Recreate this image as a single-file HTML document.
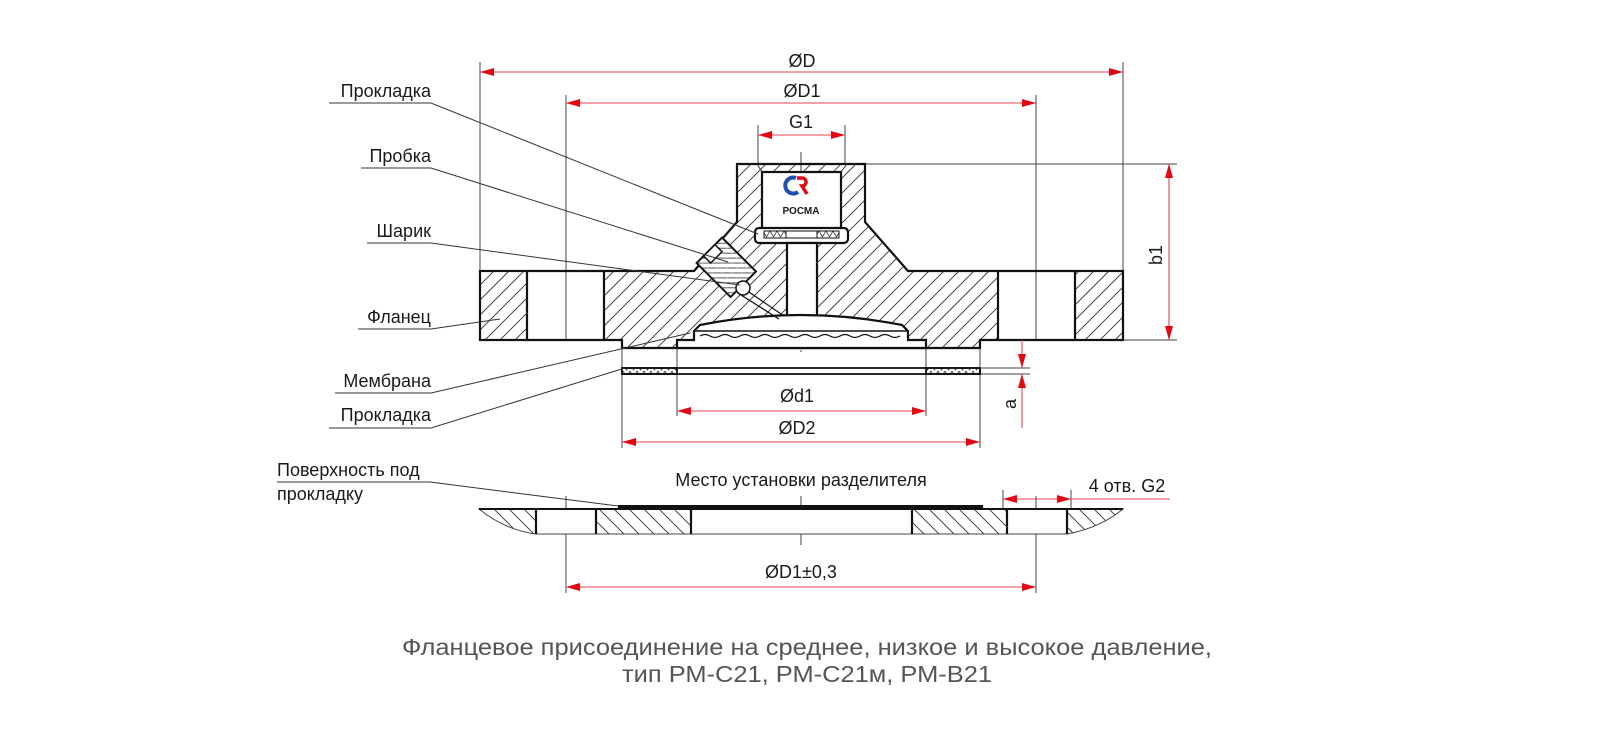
<!DOCTYPE html>
<html><head><meta charset="utf-8"><style>
html,body{margin:0;padding:0;background:#fff;}
svg{display:block;}
text{font-family:"Liberation Sans",sans-serif;fill:#1a1a1a;}
</style></head><body>
<svg width="1599" height="742" viewBox="0 0 1599 742" xmlns="http://www.w3.org/2000/svg">
<defs>
<pattern id="h1" patternUnits="userSpaceOnUse" width="15" height="15"><path d="M-2,17 L17,-2 M-2,2 L2,-2 M13,17 L17,13" stroke="#333" stroke-width="0.9"/></pattern>
<pattern id="h2" patternUnits="userSpaceOnUse" width="15" height="15"><path d="M-2,-2 L17,17 M13,-2 L17,2 M-2,13 L2,17" stroke="#333" stroke-width="0.9"/></pattern>
<pattern id="h3" patternUnits="userSpaceOnUse" width="7" height="7"><path d="M0,7 L7,0" stroke="#333" stroke-width="0.8"/></pattern>
<pattern id="xx" patternUnits="userSpaceOnUse" width="7" height="7"><path d="M0,0 L3.5,6 L7,0" stroke="#333" stroke-width="0.8" fill="none"/></pattern>
<marker id="ar" markerWidth="14" markerHeight="8" refX="14" refY="4" orient="auto-start-reverse" markerUnits="userSpaceOnUse"><path d="M0,0 L14,4 L0,8 Z" fill="#e30613"/></marker>
</defs>

<g stroke="#444" stroke-width="1" fill="none">
<path d="M480,62V271 M1123,62V271 M566,95V340 M1036,95V340 M758,125V164 M845,125V164"/>
<path d="M865,164H1177 M1123,340H1177 M980,368H1030 M980,374H1030"/>
<path d="M677,348V416 M926,348V416 M622,374V448 M980,374V448"/>
<path d="M566,496V593 M1036,496V593 M1003,490V520 M1071,490V520"/>
</g>
<g stroke="#444" stroke-width="1" fill="none" stroke-dasharray="22,4,3,4">
<path d="M801,152V352 M801,496V545"/>
</g>

<path d="M604,271 L694,271 L737,222 L737,164 L865,164 L865,222 L908,271 L998,271 L998,340 L980,340 L980,348 L622,348 L622,340 L604,340 Z" fill="url(#h1)" stroke="#111" stroke-width="2.2"/>
<rect x="480" y="271" width="47" height="69" fill="url(#h1)" stroke="#111" stroke-width="2.2"/>
<rect x="1075" y="271" width="48" height="69" fill="url(#h1)" stroke="#111" stroke-width="2.2"/>
<path d="M527,271H604 M527,340H604 M998,271H1075 M998,340H1075" stroke="#111" stroke-width="2.2"/>
<path d="M757,164 L762,172 L762,228 M847,164 L841,172 L841,228" stroke="#333" stroke-width="1" fill="none"/>
<rect x="762" y="172" width="79" height="58" fill="#fff" stroke="#111" stroke-width="2.2"/>
<rect x="755" y="228" width="93" height="15" rx="4" fill="#fff" stroke="#111" stroke-width="2.2"/>
<rect x="764" y="231" width="22" height="7" fill="url(#xx)" stroke="#111" stroke-width="1"/>
<rect x="817" y="231" width="22" height="7" fill="url(#xx)" stroke="#111" stroke-width="1"/>
<rect x="786" y="231" width="31" height="7" fill="#fff" stroke="#111" stroke-width="1"/>
<rect x="787" y="243" width="30" height="76" fill="#fff" stroke="#111" stroke-width="2.2"/>
<path d="M694,331 L700,325 Q801,305 902,325 L908,331 L908,340 L926,340 L926,348 L677,348 L677,340 L694,340 Z" fill="#fff" stroke="#111" stroke-width="2.2"/>
<path d="M694,331H908" stroke="#111" stroke-width="1.5"/>
<path d="M700,336 q5,-3 10,0 t10,0 t10,0 t10,0 t10,0 t10,0 t10,0 t10,0 t10,0 t10,0 t10,0 t10,0 t10,0 t10,0 t10,0 t10,0 t10,0 t10,0 t10,0 t10,0" stroke="#111" stroke-width="1.3" fill="none"/>
<g transform="translate(727,268) rotate(45)">
<rect x="-25" y="-18" width="48" height="36" fill="#fff" stroke="#111" stroke-width="2"/>
<rect x="-25" y="-18" width="48" height="36" fill="url(#h3)"/>
<rect x="-25" y="-8" width="10" height="16" fill="#fff" stroke="#111" stroke-width="1.5"/>
</g>
<path d="M746,290 L784,316 M741,295 L779,319" stroke="#111" stroke-width="1.2"/>
<circle cx="743" cy="288" r="7" fill="#fff" stroke="#111" stroke-width="1.5"/>
<path d="M796,178 a8,8 0 1 0 2,14" stroke="#1e50b4" stroke-width="4" fill="none"/>
<path d="M797,178 h5 a4,4 0 0 1 0,8 l5,8" stroke="#e30613" stroke-width="3.5" fill="none"/>
<text x="801" y="214" font-size="10" font-weight="bold" text-anchor="middle">РОСМА</text>

<rect x="622" y="368" width="358" height="6" fill="#fff" stroke="#111" stroke-width="1.8"/>
<rect x="622" y="368" width="55" height="6" fill="url(#xx)" stroke="#111" stroke-width="1.8"/>
<rect x="926" y="368" width="54" height="6" fill="url(#xx)" stroke="#111" stroke-width="1.8"/>
<path d="M622,348V368 M980,348V368" stroke="#444" stroke-width="1"/>

<path d="M479,509 Q505,530 536,534 L596,534 L691,534 L912,534 L1007,534 L1067,534 Q1100,528 1123,509 Z" fill="#fff" stroke="#444" stroke-width="1"/>
<path d="M479,509 Q505,530 536,534 L536,509 Z" fill="url(#h2)"/>
<rect x="596" y="509" width="95" height="25" fill="url(#h2)"/>
<rect x="912" y="509" width="95" height="25" fill="url(#h2)"/>
<path d="M1067,509 L1067,534 Q1100,528 1123,509 Z" fill="url(#h2)"/>
<path d="M479,509H1123" stroke="#111" stroke-width="2"/>
<path d="M536,509V534 M596,509V534 M691,509V534 M912,509V534 M1007,509V534 M1067,509V534" stroke="#111" stroke-width="2.2"/>
<rect x="618" y="505" width="365" height="4" fill="#111"/>

<g stroke="#e8434f" stroke-width="1.1" fill="none">
<path d="M480,72H1123" marker-start="url(#ar)" marker-end="url(#ar)"/>
<path d="M566,103H1036" marker-start="url(#ar)" marker-end="url(#ar)"/>
<path d="M758,135H845" marker-start="url(#ar)" marker-end="url(#ar)"/>
<path d="M1169,164V340" marker-start="url(#ar)" marker-end="url(#ar)"/>
<path d="M1022,340V368" marker-end="url(#ar)"/>
<path d="M1022,428V374" marker-end="url(#ar)"/>
<path d="M677,411H926" marker-start="url(#ar)" marker-end="url(#ar)"/>
<path d="M622,442H980" marker-start="url(#ar)" marker-end="url(#ar)"/>
<path d="M566,587H1036" marker-start="url(#ar)" marker-end="url(#ar)"/>
<path d="M1003,499H1071" marker-start="url(#ar)" marker-end="url(#ar)"/>
<path d="M1071,499H1170"/>
</g>
<g font-size="18" text-anchor="middle">
<text x="802" y="67">ØD</text>
<text x="802" y="97">ØD1</text>
<text x="801" y="128">G1</text>
<text x="797" y="402">Ød1</text>
<text x="797" y="434">ØD2</text>
<text x="801" y="578">ØD1±0,3</text>
<text x="801" y="486">Место установки разделителя</text>
<text x="1127" y="492">4 отв. G2</text>
<text transform="translate(1162,255) rotate(-90)">b1</text>
<text transform="translate(1016,404) rotate(-90)">a</text>
</g>

<g stroke="#333" stroke-width="1" fill="none">
<path d="M329,103H431L758,234"/>
<path d="M361,168H431L728,262"/>
<path d="M367,243H431L740,285"/>
<path d="M358,329H431L500,319"/>
<path d="M335,393H431L690,333"/>
<path d="M329,428H431L625,368"/>
<path d="M277,482H430L618,506"/>
</g>
<g font-size="18" text-anchor="end">
<text x="431" y="97">Прокладка</text>
<text x="431" y="162">Пробка</text>
<text x="431" y="237">Шарик</text>
<text x="431" y="323">Фланец</text>
<text x="431" y="387">Мембрана</text>
<text x="431" y="421">Прокладка</text>
</g>
<text x="277" y="476" font-size="18">Поверхность под</text>
<text x="277" y="500" font-size="18">прокладку</text>

<g font-size="23" text-anchor="middle">
<text x="807" y="655" textLength="810" lengthAdjust="spacingAndGlyphs" style="fill:#555">Фланцевое присоединение на среднее, низкое и высокое давление,</text>
<text x="807" y="682" textLength="370" lengthAdjust="spacingAndGlyphs" style="fill:#555">тип РМ-С21, РМ-С21м, РМ-В21</text>
</g>
</svg>
</body></html>
